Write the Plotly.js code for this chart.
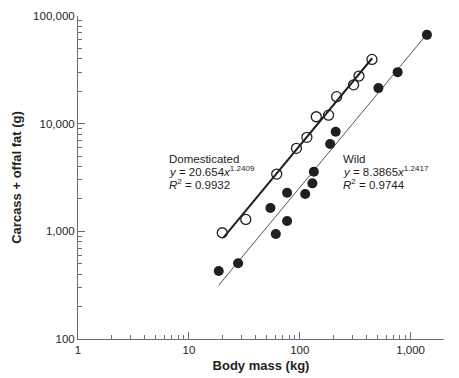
<!DOCTYPE html>
<html>
<head>
<meta charset="utf-8">
<script src="https://cdn.plot.ly/plotly-3.0.1.min.js"></script>
<style>html,body{margin:0;padding:0;background:#fff;}#chart{width:459px;height:378px;}</style>
</head>
<body>
<div id="chart"></div>
<script>
// Domesticated (open circles)
var domX = [20, 32.6, 62, 93.4, 116, 141, 182, 215, 306, 342, 448];
var domY = [970, 1290, 3400, 5900, 7460, 11600, 12000, 17800, 22960, 27700, 39500];
// Wild (filled circles)
var wildX = [18.6, 27.8, 54.4, 60.8, 76.9, 76.9, 112, 130, 134, 188, 211, 512, 764, 1403];
var wildY = [428, 505, 1645, 944, 1248, 2280, 2220, 2790, 3575, 6470, 8410, 21400, 30100, 66800];
// Fitted power-law lines (end points)
var domFitX = [20.5, 450];
var domFitY = [876, 40500];
var wildFitX = [18.6, 1400];
var wildFitY = [316, 67700];
// Tick labels
var xTickVals = [1, 10, 100, 1000];
var xTickText = ['1', '10', '100', '1,000'];
var yTickVals = [100, 1000, 10000, 100000];
var yTickText = ['100', '1,000', '10,000', '100,000'];

var ink = '#231f20';
var axisCol = '#6d6e71';
var font = 'Liberation Sans, Arial, sans-serif';

var traces = [
  {x: wildFitX, y: wildFitY, mode: 'lines', line: {color: '#555', width: 1}, hoverinfo: 'skip'},
  {x: domFitX, y: domFitY, mode: 'lines', line: {color: ink, width: 2}, hoverinfo: 'skip'},
  {x: wildX, y: wildY, mode: 'markers', marker: {symbol: 'circle', size: 10, color: ink}},
  {x: domX, y: domY, mode: 'markers', marker: {symbol: 'circle-open', size: 10, color: ink, line: {width: 1.3}}}
];

function ann(x, y, t) {
  return {xref: 'paper', yref: 'paper', x: x, y: y, xanchor: 'left', yanchor: 'middle',
          text: t, showarrow: false, borderpad: 0,
          font: {family: font, size: 11.5, color: ink}};
}

var layout = {
  width: 459, height: 378,
  margin: {l: 78, r: 15, t: 16, b: 39},
  paper_bgcolor: '#fff', plot_bgcolor: '#fff',
  showlegend: false,
  xaxis: {
    type: 'log', range: [0, Math.log10(2000)],
    tickmode: 'array', tickvals: xTickVals, ticktext: xTickText,
    ticks: 'inside', ticklen: 7, tickcolor: axisCol, tickwidth: 1,
    minor: {dtick: 'D1', ticks: 'inside', ticklen: 4, tickcolor: axisCol},
    showline: true, linecolor: axisCol, linewidth: 1,
    showgrid: false, zeroline: false,
    tickfont: {family: font, size: 11.5, color: ink},
    title: {text: 'Body mass (kg)', font: {family: font, size: 13, color: ink, weight: 'bold'}, standoff: 6}
  },
  yaxis: {
    type: 'log', range: [2, 5],
    tickmode: 'array', tickvals: yTickVals, ticktext: yTickText,
    ticks: 'inside', ticklen: 7, tickcolor: axisCol, tickwidth: 1,
    minor: {dtick: 'D1', ticks: 'inside', ticklen: 4, tickcolor: axisCol},
    showline: true, linecolor: axisCol, linewidth: 1,
    showgrid: false, zeroline: false,
    tickfont: {family: font, size: 11.5, color: ink},
    title: {text: 'Carcass + offal fat (g)', font: {family: font, size: 13, color: ink, weight: 'bold'}, standoff: 8}
  },
  annotations: [
    ann(0.2456, 0.5560, 'Domesticated'),
    ann(0.2456, 0.5195, '<i>y</i> = 20.654<i>x</i><sup>1.2409</sup>'),
    ann(0.2456, 0.4800, '<i>R</i><sup>2</sup> = 0.9932'),
    ann(0.7225, 0.5560, 'Wild'),
    ann(0.7225, 0.5195, '<i>y</i> = 8.3865<i>x</i><sup>1.2417</sup>'),
    ann(0.7225, 0.4800, '<i>R</i><sup>2</sup> = 0.9744')
  ]
};

Plotly.newPlot('chart', traces, layout, {displayModeBar: false, staticPlot: true});
</script>
</body>
</html>
